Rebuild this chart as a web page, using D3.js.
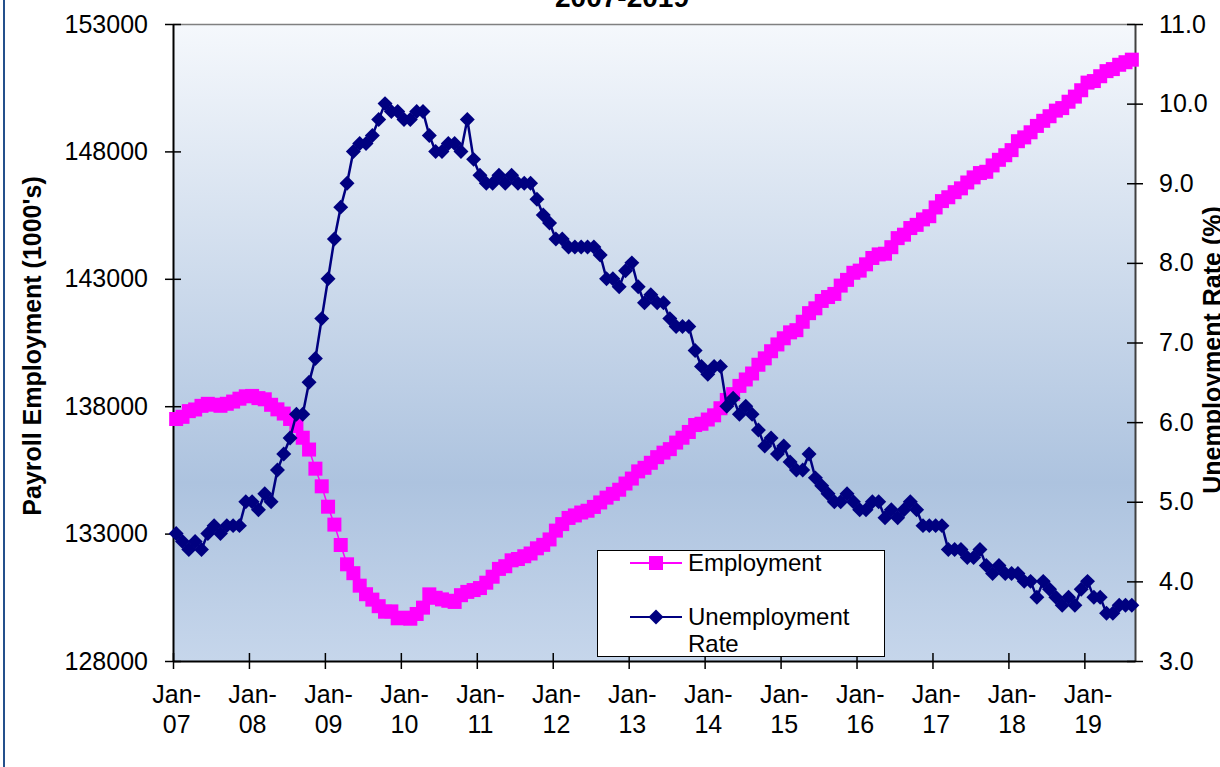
<!DOCTYPE html>
<html>
<head>
<meta charset="utf-8">
<script src="https://cdn.jsdelivr.net/npm/d3@7/dist/d3.min.js"></script>
<style>
body { margin: 0; background: #fff; }
svg text { font-family: "Liberation Sans", Arial, sans-serif; }
</style>
</head>
<body>
<div id="chart"></div>
<script>

// Tick labels for the category axis (one per January)
var yearLabels = ["07", "08", "09", "10", "11", "12", "13", "14", "15", "16", "17", "18", "19"];

// Payroll employment (1000's), monthly Jan-07 .. Aug-19
var employment = [
	137497, 137583, 137806, 137871, 138014, 138093, 138059, 138016, 138095, 138182, 138295, 138388,
	138403, 138317, 138271, 138055, 137876, 137711, 137499, 137223, 136763, 136299, 135548, 134856,
	134056, 133353, 132553, 131795, 131446, 130957, 130621, 130409, 130151, 129935, 129947, 129676,
	129700, 129660, 129845, 130094, 130615, 130481, 130418, 130364, 130318, 130583, 130712, 130784,
	130863, 131073, 131308, 131615, 131719, 131951, 132003, 132111, 132219, 132423, 132558, 132771,
	133117, 133373, 133615, 133713, 133827, 133897, 134047, 134223, 134412, 134560, 134722, 134965,
	135160, 135442, 135582, 135779, 136000, 136177, 136315, 136572, 136763, 136989, 137261, 137311,
	137477, 137642, 137920, 138244, 138474, 138797, 139049, 139283, 139627, 139878, 140157, 140424,
	140665, 140898, 140984, 141314, 141652, 141842, 142131, 142284, 142406, 142733, 142958, 143236,
	143321, 143568, 143817, 143957, 143984, 144240, 144596, 144731, 144992, 145117, 145331, 145457,
	145800, 146050, 146200, 146400, 146550, 146780, 146980, 147150, 147200, 147450, 147670, 147850,
	148050, 148400, 148550, 148750, 149000, 149200, 149380, 149600, 149700, 149950, 150150, 150400,
	150700, 150760, 150950, 151150, 151230, 151400, 151500, 151600
];

// Unemployment rate (%), monthly Jan-07 .. Aug-19
var unemploymentRate = [
	4.6, 4.5, 4.4, 4.5, 4.4, 4.6, 4.7, 4.6, 4.7, 4.7, 4.7, 5.0,
	5.0, 4.9, 5.1, 5.0, 5.4, 5.6, 5.8, 6.1, 6.1, 6.5, 6.8, 7.3,
	7.8, 8.3, 8.7, 9.0, 9.4, 9.5, 9.5, 9.6, 9.8, 10.0, 9.9, 9.9,
	9.8, 9.8, 9.9, 9.9, 9.6, 9.4, 9.4, 9.5, 9.5, 9.4, 9.8, 9.3,
	9.1, 9.0, 9.0, 9.1, 9.0, 9.1, 9.0, 9.0, 9.0, 8.8, 8.6, 8.5,
	8.3, 8.3, 8.2, 8.2, 8.2, 8.2, 8.2, 8.1, 7.8, 7.8, 7.7, 7.9,
	8.0, 7.7, 7.5, 7.6, 7.5, 7.5, 7.3, 7.2, 7.2, 7.2, 6.9, 6.7,
	6.6, 6.7, 6.7, 6.2, 6.3, 6.1, 6.2, 6.1, 5.9, 5.7, 5.8, 5.6,
	5.7, 5.5, 5.4, 5.4, 5.6, 5.3, 5.2, 5.1, 5.0, 5.0, 5.1, 5.0,
	4.9, 4.9, 5.0, 5.0, 4.8, 4.9, 4.8, 4.9, 5.0, 4.9, 4.7, 4.7,
	4.7, 4.7, 4.4, 4.4, 4.4, 4.3, 4.3, 4.4, 4.2, 4.1, 4.2, 4.1,
	4.1, 4.1, 4.0, 4.0, 3.8, 4.0, 3.9, 3.8, 3.7, 3.8, 3.7, 3.9,
	4.0, 3.8, 3.8, 3.6, 3.6, 3.7, 3.7, 3.7
];

// Axis ticks
var empTicks = [128000, 133000, 138000, 143000, 148000, 153000];
var rateTicks = [3, 4, 5, 6, 7, 8, 9, 10, 11];

//Width and height of svg, plot area edges
var w = 1220;
var h = 767;
var plotL = 173, plotR = 1135, plotT = 24, plotB = 661;
var n = employment.length;
var fontSize = "25px";

//Create scale functions
var xScale = d3.scaleLinear()
	.domain([0, n])
	.range([plotL, plotR]);

var yEmp = d3.scaleLinear()
	.domain([empTicks[0], empTicks[empTicks.length - 1]])
	.range([plotB, plotT]);

var yRate = d3.scaleLinear()
	.domain([rateTicks[0], rateTicks[rateTicks.length - 1]])
	.range([plotB, plotT]);

var halfStep = (xScale(1) - xScale(0)) / 2;

//Create SVG element
var svg = d3.select("#chart")
	.append("svg")
	.attr("width", w)
	.attr("height", h);

// Plot area gradient
var grad = svg.append("defs")
	.append("linearGradient")
	.attr("id", "plotBg")
	.attr("x1", 0).attr("y1", 0)
	.attr("x2", 0).attr("y2", 1);
grad.append("stop").attr("offset", "0%").attr("stop-color", "#f5f8fc");
grad.append("stop").attr("offset", "72%").attr("stop-color", "#adc3df");
grad.append("stop").attr("offset", "100%").attr("stop-color", "#c6d6eb");

svg.append("rect")
	.attr("x", plotL)
	.attr("y", plotT)
	.attr("width", plotR - plotL)
	.attr("height", plotB - plotT)
	.attr("fill", "url(#plotBg)");

// top border of the plot area
svg.append("line")
	.attr("x1", plotL).attr("x2", plotR)
	.attr("y1", plotT + 0.5).attr("y2", plotT + 0.5)
	.attr("stroke", "#808080")
	.attr("stroke-width", 1.5);

// chart area border (only left edge is visible)
svg.append("line")
	.attr("x1", 4).attr("x2", 4)
	.attr("y1", 0).attr("y2", h)
	.attr("stroke", "#24508c")
	.attr("stroke-width", 2);

//Create left Y axis
var gLeft = svg.append("g")
	.attr("transform", "translate(" + plotL + ",0)")
	.call(d3.axisLeft(yEmp)
		.tickValues(empTicks)
		.tickSize(8)
		.tickSizeOuter(0)
		.tickPadding(17)
		.tickFormat(d3.format("d")));
gLeft.selectAll(".tick line").attr("x1", 8);

//Create right Y axis
var gRight = svg.append("g")
	.attr("transform", "translate(" + plotR + ",0)")
	.call(d3.axisRight(yRate)
		.tickValues(rateTicks)
		.tickSize(8)
		.tickSizeOuter(0)
		.tickPadding(16)
		.tickFormat(d3.format(".1f")));
gRight.selectAll(".tick line").attr("x1", -8);
gRight.select(".domain").attr("stroke", "#404040");

//Create X axis, labels drawn as two lines
var gx = svg.append("g")
	.attr("transform", "translate(0," + plotB + ")")
	.call(d3.axisBottom(xScale)
		.tickValues(d3.range(0, n, 12))
		.tickSize(8)
		.tickSizeOuter(0)
		.tickFormat(function() { return ""; }));
gx.selectAll(".tick line").attr("y1", -8);
gx.selectAll(".tick").each(function(d, i) {
	var t = d3.select(this).append("text")
		.attr("text-anchor", "middle")
		.attr("fill", "#000");
	t.append("tspan").attr("x", halfStep).attr("y", 42).text("Jan-");
	t.append("tspan").attr("x", halfStep).attr("y", 72).text(yearLabels[i]);
});

[gLeft, gRight, gx].forEach(function(g) {
	g.attr("font-size", fontSize)
		.attr("font-family", "'Liberation Sans', Arial, sans-serif");
	g.selectAll("text").attr("fill", "#000");
	g.selectAll("line").attr("stroke-width", 1.5);
	g.select(".domain").attr("stroke-width", 2);
});

// Employment series (squares)
svg.append("path")
	.datum(employment)
	.attr("fill", "none")
	.attr("stroke", "#ff00ff")
	.attr("stroke-width", 1.5)
	.attr("d", d3.line()
		.x(function(d, i) { return xScale(i + 0.5); })
		.y(function(d) { return yEmp(d); }));

var sq = 14;
svg.append("g")
	.selectAll("rect")
	.data(employment)
	.enter()
	.append("rect")
	.attr("x", function(d, i) { return xScale(i + 0.5) - sq / 2; })
	.attr("y", function(d) { return yEmp(d) - sq / 2; })
	.attr("width", sq)
	.attr("height", sq)
	.attr("fill", "#ff00ff");

// Unemployment series (diamonds)
svg.append("path")
	.datum(unemploymentRate)
	.attr("fill", "none")
	.attr("stroke", "#000080")
	.attr("stroke-width", 2.5)
	.attr("d", d3.line()
		.x(function(d, i) { return xScale(i + 0.5); })
		.y(function(d) { return yRate(d); }));

var diamond = d3.symbol().type(d3.symbolSquare).size(112);
svg.append("g")
	.selectAll("path")
	.data(unemploymentRate)
	.enter()
	.append("path")
	.attr("d", diamond)
	.attr("transform", function(d, i) {
		return "translate(" + xScale(i + 0.5) + "," + yRate(d) + ") rotate(45)";
	})
	.attr("fill", "#000080");

// Axis titles
svg.append("text")
	.attr("transform", "translate(41,346) rotate(-90)")
	.attr("text-anchor", "middle")
	.style("font-size", fontSize)
	.style("font-weight", "bold")
	.text("Payroll Employment (1000's)");

svg.append("text")
	.attr("transform", "translate(1221,350) rotate(-90)")
	.attr("text-anchor", "middle")
	.style("font-size", fontSize)
	.style("font-weight", "bold")
	.text("Unemployment Rate (%)");

// Title (second line only, cut off by the top edge)
svg.append("text")
	.attr("x", 622)
	.attr("y", 7)
	.attr("text-anchor", "middle")
	.style("font-size", "28px")
	.style("font-weight", "bold")
	.text("2007-2019");

// Legend
var legend = svg.append("g");
legend.append("rect")
	.attr("x", 597.5).attr("y", 550.5)
	.attr("width", 287).attr("height", 106)
	.attr("fill", "#fff")
	.attr("stroke", "#000")
	.attr("stroke-width", 1);

legend.append("line")
	.attr("x1", 630).attr("x2", 682)
	.attr("y1", 563).attr("y2", 563)
	.attr("stroke", "#ff00ff").attr("stroke-width", 2);
legend.append("rect")
	.attr("x", 656 - sq / 2).attr("y", 563 - sq / 2)
	.attr("width", sq).attr("height", sq)
	.attr("fill", "#ff00ff");
legend.append("text")
	.attr("x", 688).attr("y", 571)
	.style("font-size", "24px")
	.text("Employment");

legend.append("line")
	.attr("x1", 630).attr("x2", 682)
	.attr("y1", 617).attr("y2", 617)
	.attr("stroke", "#000080").attr("stroke-width", 2);
legend.append("path")
	.attr("d", diamond)
	.attr("transform", "translate(656,617) rotate(45)")
	.attr("fill", "#000080");
var lt = legend.append("text")
	.style("font-size", "24px");
lt.append("tspan").attr("x", 688).attr("y", 625).text("Unemployment");
lt.append("tspan").attr("x", 688).attr("y", 652).text("Rate");

</script>
</body>
</html>
